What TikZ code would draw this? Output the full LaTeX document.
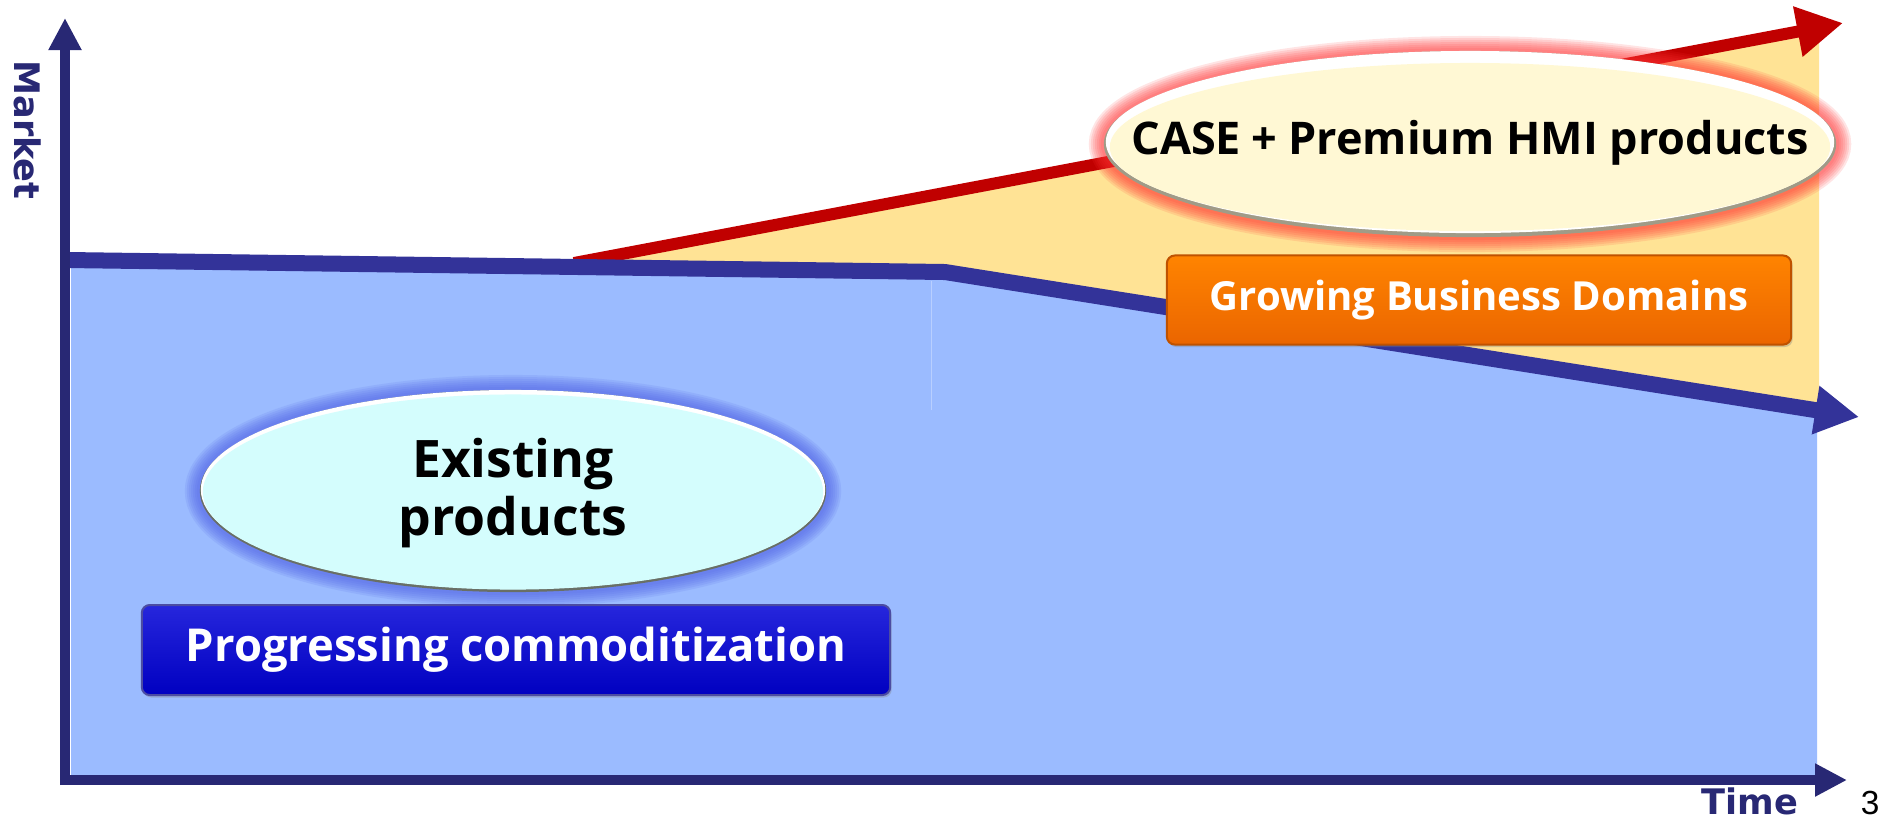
\documentclass[tikz,border=0pt]{standalone}
\usepackage{fontspec}
\setmainfont{Open Sans}
\newfontfamily\axisfont{DejaVu Sans}
\newfontfamily\pagefont{Liberation Sans}
\usetikzlibrary{arrows.meta,shadows}

\definecolor{axisnavy}{RGB}{40,40,116}
\definecolor{trendnavy}{RGB}{51,51,153}
\definecolor{marketblue}{RGB}{155,187,255}
\definecolor{growyellow}{RGB}{255,227,149}
\definecolor{trendred}{RGB}{192,0,0}
\definecolor{boxblue}{RGB}{0,0,214}
\definecolor{boxorange}{RGB}{255,110,0}
\definecolor{cream}{RGB}{255,248,212}
\definecolor{paleaqua}{RGB}{212,253,253}
\definecolor{glowred}{RGB}{255,50,50}
\definecolor{glowblue}{RGB}{80,96,230}
\definecolor{bevelgrey}{RGB}{160,155,135}

\begin{document}
\begin{tikzpicture}[x=0.01cm,y=-0.01cm,
  axisline/.style={draw=axisnavy, line width=0.105cm,
    -{Triangle[length=0.32cm,width=0.31cm]}},
  trendline/.style={line width=0.16cm, line join=miter},
  axislabel/.style={text=axisnavy, font=\axisfont\bfseries\fontsize{10}{12}\selectfont, inner sep=0pt},
  bubbletext/.style 2 args={font=\bfseries\fontsize{#1}{#2}\selectfont, align=center, inner sep=0pt},
  tagbox/.style={rounded corners=0.08cm, text=white, line width=0.02cm,
    font=\bfseries\fontsize{#1}{#1}\selectfont,
    drop shadow={shadow xshift=0.015cm, shadow yshift=-0.025cm, opacity=0.35}},
]
\useasboundingbox (0,0) rectangle (1892,820);

% market areas
\fill[marketblue] (71,260) -- (945,272) -- (1817,410) -- (1817,775) -- (71,775) -- cycle;
\fill[growyellow] (574,263) -- (1819,27) -- (1819,411) -- (945,272) -- cycle;
\draw[line width=0.01cm, white!30!marketblue] (931,281) -- (931,410);

% growth trend (red) and existing trend (navy)
\coordinate (redStart) at (574,263);
\coordinate (redTip) at (1843,23);
\draw[trendred, line width=0.12cm, -{Triangle[length=0.46cm,width=0.48cm]}] (redStart) -- (redTip);

\coordinate (navStart) at (68,260);
\coordinate (knee) at (945,272);
\coordinate (navTip) at (1859,417);
\draw[trendnavy, trendline, -{Triangle[length=0.44cm,width=0.46cm]}] (navStart) -- (knee) -- (navTip);

% axes
\coordinate (yBase) at (65,785);
\coordinate (yTip) at (65,18);
\coordinate (xBase) at (60,780);
\coordinate (xTip) at (1847,780);
\draw[axisline] (yBase) -- (yTip);
\draw[axisline] (xBase) -- (xTip);

\node[axislabel, rotate=-90] (market) at (28,130) {Market};
\node[axislabel, anchor=base] (time) at (1750,814) {Time};
\node[font=\pagefont\fontsize{9.5}{11}\selectfont, anchor=base, inner sep=0pt] (page) at (1870,814) {3};

% CASE + Premium HMI bubble
\coordinate (caseC) at (1470,144);
\foreach \w in {0.30,0.26,0.22,0.18,0.14,0.10,0.06}
  \draw[glowred, opacity=0.13, line width=\w cm] (caseC) ellipse [x radius=3.66cm, y radius=0.93cm];
\fill[bevelgrey] (caseC) ellipse [x radius=3.66cm, y radius=0.93cm];
\fill[white] ([yshift=0.02cm]caseC) ellipse [x radius=3.64cm, y radius=0.91cm];
\fill[cream] ([yshift=-0.03cm]caseC) ellipse [x radius=3.60cm, y radius=0.84cm];
\node[bubbletext={12.8}{15}] (caseText) at (1470,143) {CASE\makebox[1.05em]{+}Premium HMI products};

% Existing products bubble
\coordinate (existC) at (513,491);
\foreach \w in {0.30,0.26,0.22,0.18,0.14,0.10,0.06}
  \draw[glowblue, opacity=0.13, line width=\w cm] (existC) ellipse [x radius=3.13cm, y radius=1.01cm];
\fill[bevelgrey!70!paleaqua!60!black] (existC) ellipse [x radius=3.13cm, y radius=1.01cm];
\fill[white] ([yshift=0.015cm]existC) ellipse [x radius=3.12cm, y radius=0.995cm];
\fill[paleaqua] ([yshift=-0.01cm]existC) ellipse [x radius=3.10cm, y radius=0.975cm];
\node[bubbletext={14.7}{16.5}] (existText) at (513,493) {Existing\\products};

% tag boxes
\node[tagbox=11.4, draw=boxorange!75!black, top color=boxorange!85!yellow, bottom color=boxorange!92!black,
  minimum width=6.24cm, minimum height=0.89cm] (growBox) at (1479,300) {Growing Business Domains};
\node[tagbox=12.9, draw=boxblue!40!gray, top color=boxblue!85!white, bottom color=boxblue!90!black,
  minimum width=7.48cm, minimum height=0.90cm] (commBox) at (516,650) {Progressing commoditization};
\end{tikzpicture}
\end{document}
